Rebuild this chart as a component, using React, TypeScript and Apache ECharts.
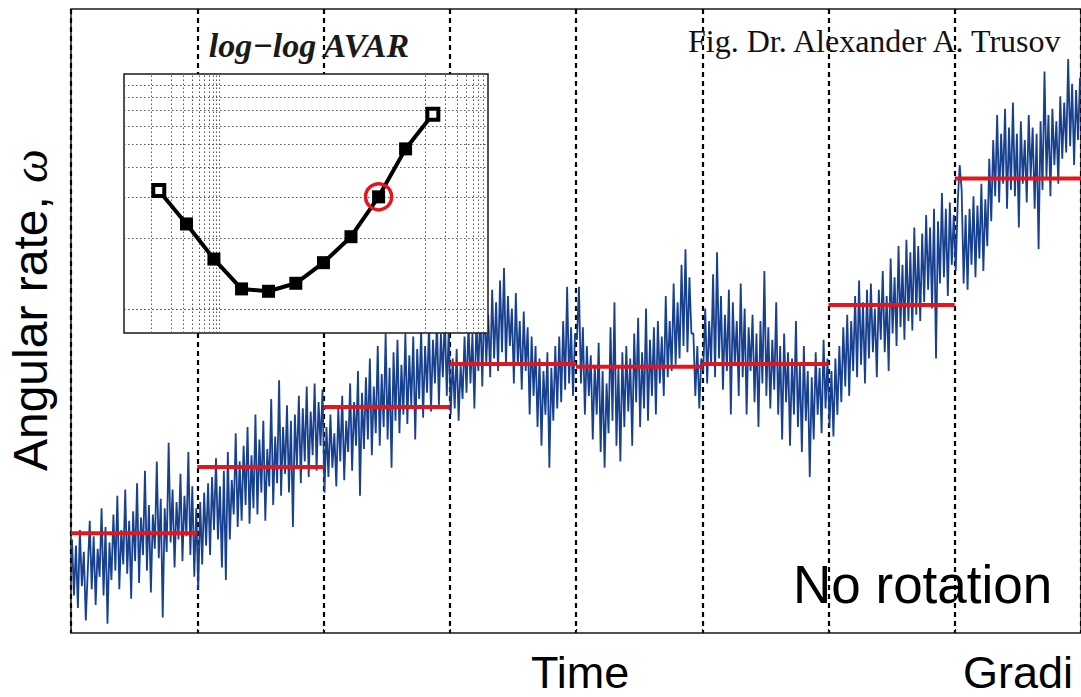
import React, { useEffect, useRef } from "react";
import * as echarts from "echarts";

// ---- Main signal (angular rate), one array per time bin ----
const signalBin0 = [30,12,28,8,33,15,26,4,20,36,14,31,9,27,18,40,12,34,3,29,17,38,20,44,14,33,22,46,19,36,11,39,23,48,16,37,25,52,20,41,13,38,27,55,24,43,5,40,26,61,29,46,21,42,30,51,23,44,31,58,25,47,18,40];
const signalBin1 = [14,42,22,45,28,48,25,50,33,56,30,47,21,52,17,58,30,49,38,64,34,55,36,60,41,66,35,57,40,70,38,62,45,68,36,59,47,75,41,63,48,81,44,66,51,73,45,68,34,70,53,76,48,72,55,79,50,71,57,80,52,74,60,78];
const signalBin2 = [45,66,50,70,53,64,47,72,55,76,49,68,58,80,52,74,60,84,44,77,59,82,62,88,57,79,64,92,60,83,66,96,62,85,53,90,68,94,64,86,70,96,67,89,73,95,62,91,75,97,69,92,77,99,71,94,80,100,73,96,82,102,76,98];
const signalBin3 = [70,88,72,91,68,86,75,95,77,99,80,96,72,100,84,104,79,108,86,102,82,110,88,106,84,113,90,117,86,108,92,104,80,109,86,100,78,103,84,98,70,95,76,92,66,88,60,84,70,90,53,85,68,92,72,95,74,100,78,111,80,98,76,96];
const signalBin4 = [94,111,80,98,70,92,76,89,62,86,70,93,58,84,53,80,64,98,68,106,60,85,55,90,66,92,71,88,60,96,74,101,66,90,72,104,68,94,76,98,70,100,80,95,76,108,82,100,84,112,86,106,88,118,92,123,90,114,96,96,76,92,72,88];
const signalBin5 = [84,104,80,100,86,115,82,122,88,108,78,102,84,110,70,106,86,100,76,112,82,104,70,98,84,102,74,96,66,100,80,116,76,98,72,94,78,106,70,92,62,96,74,90,60,88,70,100,66,86,58,92,68,84,50,82,62,90,70,85,64,94,72,88];
const signalBin6 = [66,84,63,88,70,92,74,98,79,102,76,100,84,108,82,113,86,106,80,110,88,112,90,104,82,110,94,116,90,108,84,120,96,114,92,124,98,118,94,126,100,122,97,130,102,124,100,128,106,134,110,130,104,136,88,132,112,141,114,136,108,138,118,134];
const signalBin7 = [116,138,150,142,112,134,110,136,118,140,114,137,120,144,116,139,124,152,132,158,140,166,138,160,144,168,136,162,142,170,140,160,130,164,144,158,138,166,146,162,136,160,123,164,142,180,146,166,140,168,150,164,144,172,152,170,154,184,156,176,150,174,158,178];

// Bin averages (red bars)
const binMeans = [32, 53.2, 72.4, 86.2, 85.3, 86.2, 105.1, 145.7];
const samplesPerBin = 64;

// ---- Inset: log-log Allan variance ----
const avarTau = [1.3, 3.3, 8.3, 21, 52, 130, 330, 830, 2100, 5200, 13000];
const avarValue = [0.0319, 0.023, 0.0163, 0.01217, 0.01189, 0.01286, 0.01574, 0.0203, 0.03, 0.048, 0.0674];
const avarHighlight = 8;
const avarGridTau = [1, 2, 3, 4, 5, 6, 7, 8, 9, 10, 10000, 20000, 30000, 40000, 50000, 60000, 70000, 80000];
const avarGridValue = [0.009, 0.01, 0.02, 0.03, 0.04, 0.05, 0.06, 0.07, 0.08, 0.09];

// ---- Texts ----
const insetTitle = "log\u2212log AVAR";
const creditText = "Fig. Dr. Alexander A. Trusov";
const stateText = "No rotation";
const xTitle = "Time";
const nextTitle = "Gradi";
const yTitle = "Angular rate, ";
const yTitleSymbol = "\u03c9";

export default function App() {
  const ref = useRef<HTMLDivElement>(null);

  useEffect(() => {
    if (!ref.current) return;
    const chart = echarts.init(ref.current, undefined, { renderer: "svg" });

    const bins = [signalBin0, signalBin1, signalBin2, signalBin3, signalBin4, signalBin5, signalBin6, signalBin7];
    const signalData: number[][] = [];
    bins.forEach((arr, b) => arr.forEach((v, i) => signalData.push([b * samplesPerBin + i + 0.5, v])));
    const total = bins.length * samplesPerBin;

    const redSeries = binMeans.map((m, b) => ({
      type: "line",
      xAxisIndex: 0,
      yAxisIndex: 0,
      data: [[b * samplesPerBin, m], [(b + 1) * samplesPerBin, m]],
      symbol: "none",
      silent: true,
      lineStyle: { color: "#e4161d", width: 4 },
      z: 4,
    }));

    const avarData = avarTau.map((t, i) => {
      const end = i === 0 || i === avarTau.length - 1;
      return {
        value: [t, avarValue[i]],
        symbolSize: end ? 11 : 13,
        itemStyle: end ? { color: "#fff", borderColor: "#000", borderWidth: 4 } : { color: "#000" },
      };
    });

    const option: any = {
      animation: false,
      backgroundColor: "#fff",
      grid: [
        { left: 71, top: 9, width: 1019, height: 624, show: true, borderColor: "#1a1a1a", borderWidth: 1.5, backgroundColor: "transparent" },
        { left: 124, top: 74, width: 364, height: 259, show: true, borderColor: "#1a1a1a", borderWidth: 1.5, backgroundColor: "#fff", z: 10 },
      ],
      xAxis: [
        {
          type: "value", gridIndex: 0, min: 0, max: total, interval: samplesPerBin,
          axisLine: { show: false },
          axisTick: { show: true, inside: true, length: 4, lineStyle: { color: "#1a1a1a" } },
          axisLabel: { show: false },
          splitLine: { show: true, lineStyle: { color: "#000", type: [5, 4], width: 2.2 } },
        },
        {
          type: "log", gridIndex: 1, min: 0.404, max: 83000, z: 10,
          axisLine: { show: false }, axisTick: { show: false }, axisLabel: { show: false }, splitLine: { show: false },
        },
      ],
      yAxis: [
        {
          type: "value", gridIndex: 0, min: 0, max: 200,
          axisLine: { show: false }, axisTick: { show: false }, axisLabel: { show: false }, splitLine: { show: false },
        },
        {
          type: "log", gridIndex: 1, min: 0.0079, max: 0.1, z: 10,
          axisLine: { show: false }, axisTick: { show: false }, axisLabel: { show: false }, splitLine: { show: false },
        },
      ],
      series: [
        {
          type: "line", xAxisIndex: 0, yAxisIndex: 0, data: signalData,
          symbol: "none", silent: true,
          lineStyle: { color: "#17408f", width: 1.8 },
          z: 2,
        },
        ...redSeries,
        {
          type: "line", xAxisIndex: 1, yAxisIndex: 1,
          data: avarTau.map((t, i) => [t, avarValue[i]]),
          symbol: "none", silent: true,
          lineStyle: { width: 0 },
          z: 11,
          markLine: {
            z: 11,
            silent: true, symbol: ["none", "none"], animation: false,
            label: { show: false },
            lineStyle: { color: "#555", type: [1.5, 2.5], width: 1, opacity: 1 },
            emphasis: { disabled: true },
            data: [
              ...avarGridTau.map((v) => ({ xAxis: v })),
              ...avarGridValue.map((v) => ({ yAxis: v })),
            ],
          },
        },
        {
          type: "line", xAxisIndex: 1, yAxisIndex: 1, data: avarData,
          symbol: "rect", symbolSize: 13, silent: true,
          lineStyle: { color: "#000", width: 4 },
          itemStyle: { color: "#000" },
          z: 12,
        },
        {
          type: "scatter", xAxisIndex: 1, yAxisIndex: 1,
          data: [[avarTau[avarHighlight], avarValue[avarHighlight]]],
          symbol: "circle", symbolSize: 26, silent: true,
          itemStyle: { color: "rgba(0,0,0,0)", borderColor: "#e4161d", borderWidth: 3.5, opacity: 1 },
          z: 13,
        },
      ],
      graphic: [
        {
          type: "text", x: 309, y: 45, z: 20,
          style: { text: insetTitle, font: 'italic bold 34px "Liberation Serif"', fill: "#1a1a1a", align: "center", verticalAlign: "middle" },
        },
        {
          type: "text", x: 688, y: 41, z: 20,
          style: { text: creditText, font: '32px "Liberation Serif"', fill: "#111", align: "left", verticalAlign: "middle" },
        },
        {
          type: "text", x: 793, y: 584, z: 20,
          style: { text: stateText, font: '53px "Liberation Sans"', fill: "#000", align: "left", verticalAlign: "middle" },
        },
        {
          type: "text", x: 531, y: 672, z: 20,
          style: { text: xTitle, font: '45px "Liberation Sans"', fill: "#000", align: "left", verticalAlign: "middle" },
        },
        {
          type: "text", x: 963, y: 672, z: 20,
          style: { text: nextTitle, font: '45px "Liberation Sans"', fill: "#000", align: "left", verticalAlign: "middle" },
        },
        {
          type: "text", x: 30, y: 310, z: 20, rotation: Math.PI / 2,
          style: {
            text: yTitle + "{w|" + yTitleSymbol + "}",
            font: '48px "Liberation Sans"', fill: "#000", align: "center", verticalAlign: "middle",
            rich: { w: { fontFamily: "Liberation Serif", fontStyle: "italic", fontSize: 48, fill: "#000" } },
          },
        },
      ],
    };

    chart.setOption(option);
    return () => chart.dispose();
  }, []);

  return <div ref={ref} style={{ position: "fixed", left: 0, top: 0, width: 1081, height: 697, background: "#fff" }} />;
}
